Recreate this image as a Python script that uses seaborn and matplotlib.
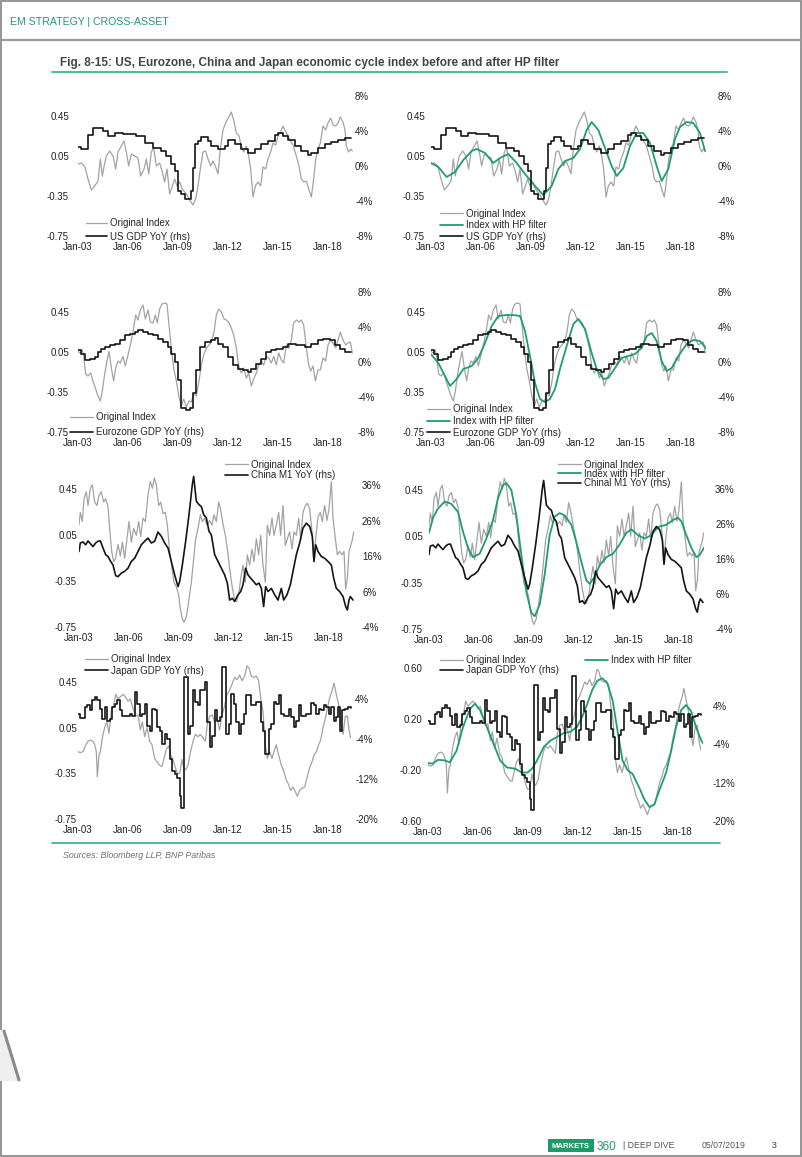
import numpy as np
import pandas as pd
import matplotlib
matplotlib.use("Agg")
import matplotlib.pyplot as plt
import seaborn as sns
from matplotlib.lines import Line2D
from matplotlib.patches import Rectangle, Polygon

# ---------------- data (decimal years / values) ----------------
US_ORIG_T = [2003.00, 2003.20, 2003.40, 2003.60, 2003.80, 2004.00, 2004.20, 2004.34, 2004.46, 2004.60,
             2004.70, 2004.90, 2005.10, 2005.26, 2005.40, 2005.60, 2005.76, 2005.90, 2006.04, 2006.20,
             2006.40, 2006.60, 2006.76, 2006.96, 2007.10, 2007.24, 2007.40, 2007.54, 2007.70, 2007.90,
             2008.06, 2008.20, 2008.34, 2008.50, 2008.66, 2008.80, 2008.94, 2009.10, 2009.26, 2009.40,
             2009.54, 2009.70, 2009.90, 2010.06, 2010.20, 2010.34, 2010.50, 2010.66, 2010.80, 2010.96,
             2011.10, 2011.26, 2011.40, 2011.54, 2011.70, 2011.86, 2012.04, 2012.20, 2012.34, 2012.50,
             2012.66, 2012.80, 2012.94, 2013.10, 2013.24, 2013.36, 2013.50, 2013.64, 2013.80, 2013.96,
             2014.10, 2014.26, 2014.40, 2014.56, 2014.70, 2014.86, 2015.00, 2015.14, 2015.30, 2015.44,
             2015.60, 2015.76, 2015.90, 2016.10, 2016.26, 2016.40, 2016.54, 2016.70, 2016.86, 2017.00,
             2017.14, 2017.26, 2017.40, 2017.54, 2017.70, 2017.86, 2018.00, 2018.16, 2018.30, 2018.46,
             2018.60, 2018.74, 2018.90, 2019.02, 2019.10, 2019.24, 2019.36, 2019.46]
US_ORIG = [-0.03, -0.02, -0.05, -0.18, -0.29, -0.25, -0.20, 0.02, -0.15, -0.02,
           0.05, 0.10, 0.05, -0.08, 0.09, 0.15, 0.20, 0.09, -0.05, 0.07,
           0.05, 0.03, -0.15, -0.08, 0.02, -0.13, 0.09, 0.13, -0.05, -0.02,
           -0.11, -0.21, -0.08, -0.33, -0.25, -0.18, -0.25, -0.21, -0.28, -0.31,
           -0.34, -0.39, -0.44, -0.38, -0.25, -0.08, 0.09, 0.10, 0.02, -0.05,
           0.00, -0.06, -0.13, 0.12, 0.31, 0.38, 0.44, 0.49, 0.41, 0.28,
           0.25, 0.15, 0.09, 0.15, 0.05, -0.08, -0.36, -0.25, -0.21, -0.25,
           -0.06, -0.08, 0.02, 0.09, 0.18, 0.16, 0.25, 0.28, 0.35, 0.30,
           0.25, 0.20, 0.16, 0.05, -0.05, -0.18, -0.21, -0.20, -0.29, -0.36,
           -0.18, 0.02, 0.12, 0.18, 0.35, 0.31, 0.38, 0.43, 0.36, 0.35,
           0.38, 0.44, 0.39, 0.31, 0.15, 0.09, 0.12, 0.10]
US_HP_T = [2003.00, 2003.44, 2003.94, 2004.44, 2004.94, 2005.44, 2005.74, 2006.24, 2006.74, 2007.14,
           2007.64, 2008.14, 2008.64, 2009.24, 2009.74, 2010.24, 2010.64, 2011.04, 2011.54, 2011.94,
           2012.34, 2012.64, 2013.04, 2013.44, 2013.84, 2014.14, 2014.54, 2014.94, 2015.34, 2015.74,
           2016.14, 2016.54, 2016.84, 2017.24, 2017.64, 2017.94, 2018.34, 2018.74, 2019.14, 2019.44]
US_HP = [-0.02, -0.06, -0.16, -0.11, 0.01, 0.10, 0.12, 0.08, -0.02, 0.03,
         0.07, -0.02, -0.13, -0.25, -0.34, -0.25, -0.08, 0.00, 0.03, 0.12,
         0.31, 0.39, 0.31, 0.13, -0.05, -0.15, -0.07, 0.15, 0.28, 0.28,
         0.18, -0.05, -0.20, -0.08, 0.22, 0.34, 0.39, 0.38, 0.28, 0.10]
US_GDP_T = [2003.0, 2003.2, 2003.6, 2003.9, 2004.5, 2004.8, 2005.2, 2005.7, 2006.0, 2006.5,
            2007.0, 2007.5, 2008.0, 2008.3, 2008.6, 2008.8, 2009.0, 2009.2, 2009.4, 2009.6,
            2009.8, 2009.9, 2010.0, 2010.2, 2010.4, 2010.6, 2010.8, 2011.0, 2011.4, 2011.8,
            2012.0, 2012.4, 2012.8, 2013.2, 2013.6, 2014.0, 2014.4, 2014.8, 2015.0, 2015.3,
            2015.6, 2016.0, 2016.4, 2016.8, 2017.0, 2017.4, 2017.8, 2018.2, 2018.6, 2019.0, 2019.4]
US_GDP = [2.2, 2.0, 3.6, 4.4, 4.0, 3.4, 3.8, 3.7, 3.7, 3.4,
          2.6, 2.1, 1.7, 1.1, 0.2, -0.6, -2.9, -3.2, -3.8, -3.8,
          -2.9, -0.2, 2.5, 2.9, 3.3, 3.3, 2.9, 2.3, 1.9, 2.3,
          3.0, 2.5, 1.9, 1.5, 1.9, 2.5, 2.9, 3.6, 3.8, 3.4,
          3.0, 2.3, 1.7, 1.3, 1.5, 2.1, 2.5, 2.8, 3.0, 3.2, 3.2]

EZ_ORIG_T = [2003.00, 2003.14, 2003.26, 2003.34, 2003.46, 2003.60, 2003.76, 2003.90, 2004.06, 2004.20,
             2004.34, 2004.46, 2004.60, 2004.74, 2004.86, 2005.00, 2005.14, 2005.26, 2005.40, 2005.54,
             2005.70, 2005.84, 2006.00, 2006.14, 2006.30, 2006.46, 2006.60, 2006.74, 2006.90, 2007.04,
             2007.20, 2007.34, 2007.50, 2007.64, 2007.76, 2007.90, 2008.04, 2008.20, 2008.34, 2008.46,
             2008.60, 2008.74, 2008.90, 2009.06, 2009.20, 2009.34, 2009.50, 2009.66, 2009.80, 2009.94,
             2010.10, 2010.26, 2010.40, 2010.54, 2010.70, 2010.86, 2011.00, 2011.16, 2011.30, 2011.44,
             2011.60, 2011.76, 2011.90, 2012.06, 2012.20, 2012.34, 2012.50, 2012.64, 2012.80, 2012.94,
             2013.10, 2013.24, 2013.40, 2013.54, 2013.70, 2013.84, 2014.00, 2014.14, 2014.30, 2014.44,
             2014.60, 2014.74, 2014.90, 2015.04, 2015.20, 2015.34, 2015.50, 2015.66, 2015.80, 2015.94,
             2016.10, 2016.26, 2016.40, 2016.54, 2016.70, 2016.84, 2016.96, 2017.10, 2017.24, 2017.40,
             2017.54, 2017.70, 2017.86, 2018.00, 2018.14, 2018.30, 2018.46, 2018.60, 2018.74, 2018.90,
             2019.06, 2019.20, 2019.34, 2019.46]
EZ_ORIG = [0.056, 0.04, 0.07, 0.006, -0.17, -0.19, -0.16, -0.24, -0.32, -0.39,
           -0.44, -0.34, -0.17, -0.04, 0.056, -0.11, -0.24, -0.11, -0.04, -0.06,
           0.006, -0.09, 0.02, 0.12, 0.25, 0.42, 0.37, 0.47, 0.52, 0.38,
           0.47, 0.35, 0.34, 0.42, 0.34, 0.48, 0.53, 0.54, 0.53, 0.32,
           0.09, -0.11, -0.24, -0.40, -0.49, -0.42, -0.50, -0.44, -0.45, -0.37,
           -0.39, -0.24, -0.08, 0.02, 0.09, 0.12, 0.15, 0.25, 0.42, 0.48,
           0.45, 0.38, 0.37, 0.34, 0.29, 0.22, 0.09, -0.09, -0.16, -0.11,
           -0.21, -0.16, -0.29, -0.22, -0.16, -0.08, -0.04, -0.08, 0.006, -0.01,
           -0.06, 0.006, -0.08, 0.04, -0.03, -0.06, 0.12, 0.09, 0.17, 0.34,
           0.37, 0.35, 0.37, 0.32, 0.09, -0.08, -0.14, -0.09, -0.24, -0.13,
           -0.13, -0.01, -0.04, 0.12, 0.17, 0.14, 0.09, 0.17, 0.25, 0.17,
           0.12, 0.14, 0.15, 0.04]
EZ_HP_T = [2003.00, 2003.44, 2003.84, 2004.14, 2004.54, 2004.94, 2005.44, 2005.84, 2006.24, 2006.64,
           2007.04, 2007.54, 2007.94, 2008.34, 2008.64, 2008.94, 2009.24, 2009.54, 2009.84, 2010.14,
           2010.44, 2010.74, 2011.14, 2011.54, 2011.84, 2012.24, 2012.64, 2012.94, 2013.34, 2013.64,
           2014.04, 2014.44, 2014.84, 2015.24, 2015.64, 2015.94, 2016.24, 2016.54, 2016.84, 2017.14,
           2017.44, 2017.84, 2018.34, 2018.74, 2019.14, 2019.54]
EZ_HP = [0.027, -0.06, -0.19, -0.29, -0.22, -0.12, -0.09, -0.01, 0.14, 0.31,
         0.41, 0.42, 0.42, 0.41, 0.26, 0.01, -0.26, -0.42, -0.45, -0.42,
         -0.32, -0.12, 0.11, 0.33, 0.38, 0.28, 0.04, -0.12, -0.22, -0.21,
         -0.11, -0.01, 0.01, 0.03, 0.09, 0.21, 0.24, 0.16, -0.04, -0.14,
         -0.11, 0.01, 0.13, 0.17, 0.16, 0.08]
EZ_GDP_T = [2003.0, 2003.2, 2003.4, 2003.7, 2004.0, 2004.2, 2004.4, 2004.6, 2004.9, 2005.2,
            2005.5, 2005.8, 2006.1, 2006.4, 2006.6, 2006.9, 2007.2, 2007.5, 2007.8, 2008.1,
            2008.4, 2008.6, 2008.8, 2009.0, 2009.2, 2009.5, 2009.7, 2009.9, 2010.1, 2010.3,
            2010.6, 2011.0, 2011.2, 2011.4, 2011.7, 2012.0, 2012.3, 2012.6, 2012.9, 2013.2,
            2013.4, 2013.7, 2014.0, 2014.3, 2014.6, 2014.9, 2015.3, 2015.6, 2016.1, 2016.6,
            2017.0, 2017.4, 2017.7, 2018.1, 2018.4, 2018.7, 2019.0, 2019.4]
EZ_GDP = [1.33, 0.95, 0.19, 0.38, 0.57, 1.14, 1.52, 1.71, 1.9, 2.1,
          2.48, 3.05, 3.24, 3.43, 3.7, 3.43, 3.24, 3.05, 2.67, 2.29,
          1.71, 0.95, 0.0, -2.1, -5.3, -5.5, -5.3, -3.6, -0.95, 1.71,
          2.29, 2.48, 2.78, 2.1, 1.71, 0.57, -0.38, -0.76, -0.95, -1.14,
          -0.76, -0.19, 0.38, 1.14, 1.33, 1.52, 1.71, 2.0, 1.9, 1.71,
          2.1, 2.48, 2.67, 2.48, 1.9, 1.52, 1.14, 1.14]

CN_ORIG_T = [2003.00, 2003.08, 2003.20, 2003.30, 2003.44, 2003.54, 2003.68, 2003.80, 2003.94, 2004.08,
             2004.20, 2004.34, 2004.48, 2004.60, 2004.74, 2004.84, 2004.96, 2005.08, 2005.20, 2005.34,
             2005.48, 2005.60, 2005.74, 2005.88, 2006.00, 2006.14, 2006.28, 2006.44, 2006.58, 2006.70,
             2006.84, 2006.98, 2007.14, 2007.28, 2007.40, 2007.52, 2007.64, 2007.78, 2007.90, 2008.04,
             2008.18, 2008.30, 2008.44, 2008.58, 2008.70, 2008.84, 2008.98, 2009.08, 2009.20, 2009.30,
             2009.44, 2009.58, 2009.74, 2009.88, 2010.00, 2010.14, 2010.28, 2010.40, 2010.54, 2010.68,
             2010.84, 2010.98, 2011.10, 2011.24, 2011.38, 2011.50, 2011.64, 2011.78, 2011.92, 2012.04,
             2012.18, 2012.32, 2012.44, 2012.58, 2012.70, 2012.84, 2012.98, 2013.10, 2013.24, 2013.38,
             2013.50, 2013.64, 2013.78, 2013.90, 2014.04, 2014.18, 2014.30, 2014.44, 2014.58, 2014.70,
             2014.84, 2014.98, 2015.10, 2015.24, 2015.38, 2015.50, 2015.64, 2015.78, 2015.90, 2016.04,
             2016.18, 2016.30, 2016.44, 2016.58, 2016.70, 2016.84, 2016.98, 2017.08, 2017.20, 2017.34,
             2017.48, 2017.60, 2017.74, 2017.88, 2018.00, 2018.14, 2018.24, 2018.38, 2018.50, 2018.64,
             2018.78, 2018.90, 2019.00, 2019.10, 2019.20, 2019.30, 2019.40, 2019.48]
CN_ORIG = [0.14, 0.25, 0.17, 0.37, 0.43, 0.31, 0.46, 0.49, 0.34, 0.31,
           0.40, 0.43, 0.34, 0.37, 0.30, 0.11, -0.09, -0.18, -0.15, -0.03,
           -0.13, -0.01, -0.15, 0.02, 0.17, -0.01, 0.11, 0.05, 0.17, 0.04,
           0.20, 0.17, 0.40, 0.52, 0.46, 0.55, 0.49, 0.31, 0.34, 0.24,
           0.25, 0.14, -0.09, -0.24, -0.36, -0.40, -0.47, -0.59, -0.68, -0.71,
           -0.66, -0.53, -0.36, -0.15, 0.02, 0.11, 0.23, 0.17, 0.20, 0.14,
           0.18, 0.14, 0.23, 0.17, 0.34, 0.27, 0.15, 0.05, -0.09, -0.24,
           -0.39, -0.50, -0.53, -0.47, -0.33, -0.21, -0.36, -0.12, -0.21, -0.07,
           -0.18, 0.02, -0.12, 0.05, -0.21, -0.36, 0.14, 0.05, 0.20, 0.05,
           0.14, 0.25, 0.05, 0.31, -0.04, 0.02, 0.08, -0.07, 0.08, 0.05,
           0.20, 0.02, 0.25, 0.31, 0.33, 0.28, 0.08, -0.18, 0.02, 0.21,
           0.25, 0.17, 0.31, 0.18, 0.28, 0.52, 0.20, 0.02, -0.12, -0.09,
           -0.12, -0.09, -0.42, -0.33, -0.09, -0.04, 0.01, 0.08]
CN_HP_T = [2003.00, 2003.24, 2003.54, 2003.94, 2004.34, 2004.74, 2005.04, 2005.34, 2005.64, 2006.04,
           2006.44, 2006.84, 2007.14, 2007.44, 2007.64, 2007.94, 2008.24, 2008.54, 2008.84, 2009.14,
           2009.34, 2009.64, 2009.94, 2010.24, 2010.54, 2010.84, 2011.14, 2011.54, 2011.84, 2012.14,
           2012.44, 2012.64, 2012.94, 2013.24, 2013.64, 2014.04, 2014.44, 2014.84, 2015.14, 2015.54,
           2015.94, 2016.34, 2016.74, 2017.24, 2017.64, 2017.94, 2018.14, 2018.44, 2018.74, 2019.04,
           2019.24, 2019.54]
CN_HP = [0.08, 0.21, 0.29, 0.35, 0.33, 0.26, 0.09, -0.05, -0.13, -0.10,
         0.03, 0.19, 0.38, 0.49, 0.51, 0.45, 0.23, -0.11, -0.43, -0.61,
         -0.64, -0.54, -0.28, 0.06, 0.22, 0.25, 0.23, 0.15, 0.00, -0.17,
         -0.33, -0.36, -0.30, -0.20, -0.13, -0.10, -0.02, 0.08, 0.11, 0.06,
         0.03, 0.06, 0.13, 0.15, 0.19, 0.21, 0.18, 0.06, -0.05, -0.13,
         -0.11, -0.04]
CN_M1_T = [2003.00, 2003.08, 2003.24, 2003.40, 2003.54, 2003.70, 2003.84, 2004.00, 2004.14, 2004.28,
           2004.44, 2004.60, 2004.74, 2004.90, 2005.04, 2005.20, 2005.34, 2005.54, 2005.74, 2005.94,
           2006.14, 2006.34, 2006.54, 2006.74, 2006.94, 2007.14, 2007.34, 2007.54, 2007.74, 2007.94,
           2008.14, 2008.34, 2008.54, 2008.74, 2008.94, 2009.04, 2009.20, 2009.40, 2009.60, 2009.80,
           2009.88, 2010.04, 2010.20, 2010.34, 2010.48, 2010.64, 2010.80, 2010.94, 2011.14, 2011.34,
           2011.54, 2011.74, 2011.90, 2012.04, 2012.20, 2012.34, 2012.54, 2012.70, 2012.84, 2013.00,
           2013.14, 2013.30, 2013.48, 2013.64, 2013.80, 2013.94, 2014.08, 2014.20, 2014.34, 2014.54,
           2014.74, 2014.94, 2015.14, 2015.28, 2015.48, 2015.68, 2015.84, 2016.04, 2016.24, 2016.44,
           2016.64, 2016.84, 2017.00, 2017.10, 2017.20, 2017.34, 2017.54, 2017.74, 2017.94, 2018.14,
           2018.28, 2018.44, 2018.64, 2018.84, 2019.00, 2019.10, 2019.20, 2019.28, 2019.44]
CN_M1 = [17.3, 19.7, 20.0, 19.2, 20.3, 19.4, 18.7, 19.7, 20.2, 20.3,
         18.3, 16.4, 15.9, 14.5, 13.5, 10.5, 10.2, 11.2, 11.7, 12.6,
         14.5, 15.4, 17.3, 19.2, 20.2, 21.1, 19.7, 20.2, 22.8, 21.6,
         19.7, 18.3, 14.5, 10.7, 7.4, 8.8, 13.5, 20.2, 27.7, 36.2,
         38.5, 31.5, 30.5, 30.0, 27.7, 26.8, 23.0, 22.0, 16.4, 14.5,
         12.6, 10.7, 8.4, 3.6, 4.1, 3.2, 5.1, 6.0, 7.9, 12.6,
         10.7, 9.8, 8.8, 7.9, 8.4, 6.9, 1.8, 7.4, 6.0, 6.9,
         5.1, 3.6, 6.9, 3.6, 5.1, 7.9, 11.7, 16.4, 19.7, 23.9,
         25.3, 24.4, 21.6, 14.5, 19.2, 17.3, 15.9, 15.4, 14.5, 13.5,
         9.8, 6.9, 6.0, 4.6, 1.8, 0.8, 3.6, 4.6, 3.6]

JP_ORIG_T = [2003.00, 2003.14, 2003.30, 2003.44, 2003.60, 2003.76, 2003.90, 2004.00, 2004.10, 2004.16,
             2004.26, 2004.34, 2004.46, 2004.60, 2004.74, 2004.86, 2005.00, 2005.14, 2005.26, 2005.40,
             2005.54, 2005.70, 2005.84, 2006.00, 2006.14, 2006.30, 2006.44, 2006.60, 2006.74, 2006.86,
             2007.00, 2007.14, 2007.30, 2007.44, 2007.60, 2007.74, 2007.90, 2008.04, 2008.16, 2008.30,
             2008.44, 2008.56, 2008.70, 2008.84, 2008.96, 2009.10, 2009.24, 2009.34, 2009.46, 2009.60,
             2009.74, 2009.90, 2010.04, 2010.20, 2010.34, 2010.50, 2010.64, 2010.76, 2010.90, 2011.06,
             2011.20, 2011.34, 2011.50, 2011.64, 2011.80, 2011.94, 2012.10, 2012.24, 2012.40, 2012.54,
             2012.70, 2012.84, 2013.00, 2013.14, 2013.26, 2013.40, 2013.54, 2013.70, 2013.84, 2013.96,
             2014.10, 2014.24, 2014.36, 2014.50, 2014.64, 2014.76, 2014.90, 2015.04, 2015.20, 2015.34,
             2015.50, 2015.64, 2015.76, 2015.90, 2016.04, 2016.16, 2016.30, 2016.44, 2016.60, 2016.74,
             2016.90, 2017.04, 2017.16, 2017.30, 2017.44, 2017.56, 2017.70, 2017.84, 2017.96, 2018.10,
             2018.24, 2018.36, 2018.50, 2018.64, 2018.76, 2018.90, 2019.04, 2019.16, 2019.26, 2019.36]
JP_ORIG = [-0.16, -0.17, -0.16, -0.11, -0.07, -0.06, -0.07, -0.10, -0.16, -0.38,
           -0.19, -0.16, -0.04, 0.05, 0.10, 0.00, 0.19, 0.25, 0.34, 0.30,
           0.32, 0.34, 0.32, 0.28, 0.30, 0.22, 0.15, 0.16, 0.03, 0.10,
           -0.03, 0.05, -0.07, -0.10, -0.22, -0.25, -0.28, -0.29, -0.22, -0.14,
           -0.11, -0.19, -0.23, -0.30, -0.35, -0.35, -0.23, -0.30, -0.32, -0.28,
           -0.17, -0.07, -0.01, -0.03, -0.01, -0.04, -0.07, 0.08, 0.15, 0.16,
           0.10, 0.13, 0.03, 0.16, 0.24, 0.34, 0.38, 0.43, 0.49, 0.47,
           0.51, 0.46, 0.50, 0.59, 0.57, 0.50, 0.49, 0.50, 0.46, 0.31,
           0.19, -0.10, -0.22, -0.16, -0.22, -0.16, -0.10, -0.19, -0.28, -0.33,
           -0.41, -0.45, -0.50, -0.47, -0.51, -0.55, -0.50, -0.48, -0.47, -0.39,
           -0.30, -0.25, -0.19, -0.16, -0.10, -0.06, 0.05, 0.13, 0.22, 0.31,
           0.37, 0.44, 0.34, 0.25, 0.10, -0.01, 0.15, 0.15, 0.03, -0.04]
JP_HP_T = [2003.00, 2003.30, 2003.60, 2004.01, 2004.31, 2004.71, 2005.11, 2005.52, 2005.82, 2006.12,
           2006.52, 2006.92, 2007.33, 2007.73, 2008.23, 2008.63, 2008.98, 2009.24, 2009.54, 2009.94,
           2010.34, 2010.75, 2011.15, 2011.55, 2011.95, 2012.26, 2012.56, 2012.86, 2013.16, 2013.46,
           2013.76, 2014.07, 2014.37, 2014.67, 2014.97, 2015.27, 2015.68, 2015.98, 2016.28, 2016.58,
           2016.88, 2017.29, 2017.59, 2017.89, 2018.19, 2018.49, 2018.79, 2019.10, 2019.40, 2019.50]
JP_HP = [-0.146, -0.15, -0.12, -0.125, -0.14, -0.05, 0.14, 0.28, 0.32, 0.27,
         0.14, 0.01, -0.125, -0.18, -0.19, -0.22, -0.22, -0.19, -0.125, -0.02,
         0.03, 0.06, 0.09, 0.10, 0.14, 0.22, 0.32, 0.43, 0.50, 0.52,
         0.48, 0.35, 0.11, -0.125, -0.20, -0.23, -0.34, -0.43, -0.49, -0.47,
         -0.36, -0.22, -0.05, 0.14, 0.27, 0.31, 0.26, 0.13, 0.03, 0.01]
JP_GDP_T = [2003.00, 2003.14, 2003.30, 2003.40, 2003.54, 2003.70, 2003.86, 2004.00, 2004.16, 2004.30,
            2004.46, 2004.60, 2004.74, 2004.90, 2005.06, 2005.20, 2005.34, 2005.50, 2005.64, 2005.80,
            2005.94, 2006.10, 2006.24, 2006.40, 2006.54, 2006.70, 2006.84, 2007.00, 2007.14, 2007.30,
            2007.44, 2007.60, 2007.74, 2007.90, 2008.06, 2008.20, 2008.34, 2008.50, 2008.66, 2008.80,
            2008.94, 2009.10, 2009.20, 2009.30, 2009.36, 2009.50, 2009.60, 2009.74, 2009.90, 2010.04,
            2010.20, 2010.34, 2010.46, 2010.60, 2010.74, 2010.90, 2011.06, 2011.20, 2011.34, 2011.50,
            2011.66, 2011.80, 2011.90, 2012.04, 2012.20, 2012.34, 2012.50, 2012.64, 2012.80, 2012.94,
            2013.10, 2013.24, 2013.40, 2013.54, 2013.70, 2013.84, 2014.00, 2014.10, 2014.20, 2014.34,
            2014.46, 2014.60, 2014.74, 2014.90, 2015.06, 2015.20, 2015.34, 2015.50, 2015.64, 2015.80,
            2015.94, 2016.10, 2016.24, 2016.40, 2016.54, 2016.70, 2016.84, 2017.00, 2017.14, 2017.30,
            2017.44, 2017.60, 2017.74, 2017.90, 2018.04, 2018.20, 2018.34, 2018.50, 2018.60, 2018.74,
            2018.86, 2019.00, 2019.20, 2019.40]
JP_GDP = [1.0, 0.2, 0.2, 2.3, 2.7, 1.7, 3.7, 4.3, 3.7, 2.0,
          0.0, 2.3, -0.4, 0.0, 2.3, 3.0, 3.7, 1.7, 0.6, 0.6,
          0.6, 1.0, 0.6, 5.3, 3.0, 0.6, 1.0, 3.0, -1.4, -2.4,
          2.0, 1.7, -1.7, -2.4, -5.1, -3.0, -4.0, -8.1, -10.4, -11.1,
          -11.8, -15.5, -17.8, -17.8, 8.4, 8.4, -3.0, -1.4, 5.7, 3.3,
          2.7, 5.7, 5.7, 7.4, -0.7, -5.7, -3.4, 1.7, -0.4, 0.3,
          10.4, 10.4, -3.0, -1.0, 5.0, 3.0, -0.7, -3.0, -1.0, 1.0,
          4.7, 4.7, 2.7, 2.7, 3.3, 3.3, -0.7, -2.4, -7.1, -7.1,
          -2.0, -1.0, 3.3, 3.0, 4.7, 1.0, 0.6, 0.6, 2.0, 0.3,
          -1.7, -0.4, 2.7, 0.6, 0.6, 1.0, 1.0, 3.1, 2.7, 1.0,
          2.0, 1.7, 2.7, 2.3, 1.0, 2.3, -0.4, 0.3, 2.3, -2.4,
          1.7, 2.0, 2.3, 2.2]

X_TICKS = [2003, 2006, 2009, 2012, 2015, 2018]
X_LABELS = ["Jan-03", "Jan-06", "Jan-09", "Jan-12", "Jan-15", "Jan-18"]
L_TICKS_A = [-0.75, -0.35, 0.05, 0.45]
L_TICKS_B = [-0.60, -0.20, 0.20, 0.60]
R_TICKS_GDP = [-8, -4, 0, 4, 8]
R_TICKS_M1 = [-4, 6, 16, 26, 36]
R_TICKS_JP = [-20, -12, -4, 4]

# ---------------- style ----------------
GREY = "#a3a3a3"
BLACK = "#151515"
GREEN = "#1f9e6c"
TEAL = "#2bb08b"
FS = 7

sns.set_theme(style="white")
plt.rcParams["font.family"] = ["Liberation Sans", "DejaVu Sans"]

W, H = 802, 1157
fig = plt.figure(figsize=(W / 100, H / 100), dpi=100)


def fx(x):
    return x / W


def fy(y):
    return 1 - y / H


def make_panel(box, lylim, lticks, rylim, rticks, lpad, rpad):
    l, t, r, b = box
    ax = fig.add_axes([fx(l), fy(b), (r - l) / W, (b - t) / H])
    ax2 = ax.twinx()
    for a in (ax, ax2):
        a.set_facecolor("none")
        for s in a.spines.values():
            s.set_visible(False)
        a.grid(False)
    ax.set_xlim(2003, 2019.5)
    ax.set_ylim(*lylim)
    ax2.set_ylim(*rylim)
    ax.set_xticks(X_TICKS)
    ax.set_xticklabels(X_LABELS)
    ax.set_yticks(lticks)
    ax.set_yticklabels([f"{v:.2f}" for v in lticks])
    ax2.set_yticks(rticks)
    ax2.set_yticklabels([f"{v:.0f}%" for v in rticks])
    ax.tick_params(axis="x", length=0, pad=4.5, labelsize=FS, colors="#222222")
    ax.tick_params(axis="y", length=0, pad=lpad, labelsize=FS, colors="#222222")
    ax2.tick_params(axis="y", length=0, pad=rpad, labelsize=FS, colors="#222222")
    ax.set_xlabel("")
    ax.set_ylabel("")
    ax2.set_ylabel("")
    return ax, ax2


def line(ax, t, v, color, lw, steps=False):
    kw = dict(drawstyle="steps-post") if steps else {}
    sns.lineplot(x=t, y=v, ax=ax, color=color, linewidth=lw, estimator=None, sort=False, **kw)
    ax.set_xlabel("")
    ax.set_ylabel("")


def legend(items, x_px, y_px, spacing, ncol=1, colsp=2.0, hl=2.4):
    handles = [Line2D([], [], color=c, lw=w) for (_, c, w) in items]
    labels = [lab for (lab, _, _) in items]
    fig.legend(handles, labels, loc="upper left", bbox_to_anchor=(fx(x_px), fy(y_px)),
               frameon=False, fontsize=FS, handlelength=hl, handletextpad=0.25,
               borderpad=0, borderaxespad=0, labelspacing=spacing, ncol=ncol,
               columnspacing=colsp)


LW_G, LW_K, LW_H = 0.9, 1.2, 1.3

# Row 1: US
ax, ax2 = make_panel((78, 96, 353, 236), (-0.75, 0.65), L_TICKS_A, (-8, 8), R_TICKS_GDP, 6.5, 1.5)
line(ax, US_ORIG_T, US_ORIG, GREY, LW_G)
line(ax2, US_GDP_T, US_GDP, BLACK, LW_K, steps=True)
legend([("Original Index", GREY, LW_G), ("US GDP YoY (rhs)", BLACK, LW_K)], 86, 218.5, 0.32, hl=2.2)

ax, ax2 = make_panel((431, 96, 706, 236), (-0.75, 0.65), L_TICKS_A, (-8, 8), R_TICKS_GDP, 4.3, 8.5)
line(ax, US_ORIG_T, US_ORIG, GREY, LW_G)
line(ax2, US_GDP_T, US_GDP, BLACK, LW_K, steps=True)
line(ax, US_HP_T, US_HP, GREEN, LW_H)
legend([("Original Index", GREY, LW_G), ("Index with HP filter", GREEN, LW_H),
        ("US GDP YoY (rhs)", BLACK, LW_K)], 440, 208.5, 0.16)

# Row 2: Eurozone
ax, ax2 = make_panel((78, 292, 353, 432), (-0.75, 0.65), L_TICKS_A, (-8, 8), R_TICKS_GDP, 6.5, 3.6)
line(ax, EZ_ORIG_T, EZ_ORIG, GREY, LW_G)
line(ax2, EZ_GDP_T, EZ_GDP, BLACK, LW_K, steps=True)
legend([("Original Index", GREY, LW_G), ("Eurozone GDP YoY (rhs)", BLACK, LW_K)], 70, 412.5, 0.5)

ax, ax2 = make_panel((431, 292, 706, 432), (-0.75, 0.65), L_TICKS_A, (-8, 8), R_TICKS_GDP, 4.3, 8.5)
line(ax, EZ_ORIG_T, EZ_ORIG, GREY, LW_G)
line(ax2, EZ_GDP_T, EZ_GDP, BLACK, LW_K, steps=True)
line(ax, EZ_HP_T, EZ_HP, GREEN, LW_H)
legend([("Original Index", GREY, LW_G), ("Index with HP filter", GREEN, LW_H),
        ("Eurozone GDP YoY (rhs)", BLACK, LW_K)], 427, 404.5, 0.16)

# Row 3: China
ax, ax2 = make_panel((79, 470, 354, 627), (-0.75, 0.62), L_TICKS_A, (-4, 40.3), R_TICKS_M1, 1.5, 5.8)
line(ax, CN_ORIG_T, CN_ORIG, GREY, LW_G)
line(ax2, CN_M1_T, CN_M1, BLACK, LW_K)
legend([("Original Index", GREY, LW_G), ("China M1 YoY (rhs)", BLACK, LW_K)], 225, 459.5, 0.1)

ax, ax2 = make_panel((429, 472, 704, 629), (-0.75, 0.605), L_TICKS_A, (-4, 40.9), R_TICKS_M1, 4.3, 8.0)
line(ax, CN_ORIG_T, CN_ORIG, GREY, LW_G)
line(ax2, CN_M1_T, CN_M1, BLACK, LW_K)
line(ax, CN_HP_T, CN_HP, GREEN, LW_H)
legend([("Original Index", GREY, LW_G), ("Index with HP filter", GREEN, LW_H),
        ("Chinal M1 YoY (rhs)", BLACK, LW_K)], 558, 459.5, -0.08)

# Row 4: Japan
ax, ax2 = make_panel((78, 659, 353, 819), (-0.75, 0.65), L_TICKS_A, (-20, 12), R_TICKS_JP, 0.8, 1.5)
line(ax, JP_ORIG_T, JP_ORIG, GREY, LW_G)
line(ax2, JP_GDP_T, JP_GDP, BLACK, LW_K, steps=True)
legend([("Original Index", GREY, LW_G), ("Japan GDP YoY (rhs)", BLACK, LW_K)], 85, 654.5, 0.12)

ax, ax2 = make_panel((428, 668, 703, 821), (-0.60, 0.60), L_TICKS_B, (-20, 12), R_TICKS_JP, 4.3, 7.0)
line(ax, JP_ORIG_T, JP_ORIG, GREY, LW_G)
line(ax2, JP_GDP_T, JP_GDP, BLACK, LW_K, steps=True)
line(ax, JP_HP_T, JP_HP, GREEN, LW_H)
legend([("Original Index", GREY, LW_G), ("Japan GDP YoY (rhs)", BLACK, LW_K),
        ("Index with HP filter", GREEN, LW_H)], 440, 655, 0.03, ncol=2, colsp=2.7)

# ---------------- page furniture ----------------
def hline(y, x0, x1, color, lw):
    fig.add_artist(Line2D([fx(x0), fx(x1)], [fy(y), fy(y)], color=color, lw=lw,
                          transform=fig.transFigure))


fig.add_artist(Rectangle((fx(0.8), fy(1156.2)), (W - 1.6) / W, (H - 1.6) / H, fill=False,
                         edgecolor="#8c8c8c", lw=1.3, transform=fig.transFigure))
hline(40, 0, 802, "#9a9a9a", 1.6)
fig.text(fx(10), fy(22), "EM STRATEGY | CROSS-ASSET", fontsize=7.6, color="#1c9a78",
         va="center", ha="left")
fig.text(fx(60), fy(63), "Fig. 8-15: US, Eurozone, China and Japan economic cycle index before and after HP filter",
         fontsize=8.5, fontweight="bold", color="#444444", va="center", ha="left")
hline(72, 52, 727, TEAL, 1.2)
hline(843, 52, 720, TEAL, 1.2)
fig.text(fx(63), fy(855), "Sources: Bloomberg LLP, BNP Paribas", fontsize=6.4, style="italic",
         color="#707070", va="center", ha="left")

# page-curl artefact at left edge
fig.add_artist(Polygon([(fx(0), fy(1030)), (fx(4), fy(1030)), (fx(20), fy(1081)), (fx(0), fy(1081))],
                       closed=True, facecolor="#efefef", edgecolor="none", transform=fig.transFigure))
fig.add_artist(Line2D([fx(4), fx(19)], [fy(1031), fy(1080)], color="#8a8a8a", lw=2.2,
                      transform=fig.transFigure))

# footer
FY = 1145
fig.add_artist(Rectangle((fx(548), fy(FY + 6.5)), 46 / W, 13 / H, facecolor="#1f9a6a", edgecolor="none",
                         transform=fig.transFigure))
fig.text(fx(571), fy(FY), "MARKETS", fontsize=5.6, fontweight="bold", color="white",
         va="center_baseline", ha="center")
fig.text(fx(597), fy(FY), "360", fontsize=8.5, color="#1f9a6a", va="center_baseline", ha="left")
fig.text(fx(623), fy(FY), "| DEEP DIVE", fontsize=6.3, color="#555555", va="center_baseline", ha="left")
fig.text(fx(702), fy(FY), "05/07/2019", fontsize=6.3, color="#555555", va="center_baseline", ha="left")
fig.text(fx(772), fy(FY), "3", fontsize=6.3, color="#333333", va="center_baseline", ha="left")

fig.savefig("out.png", dpi=100, facecolor="white")
